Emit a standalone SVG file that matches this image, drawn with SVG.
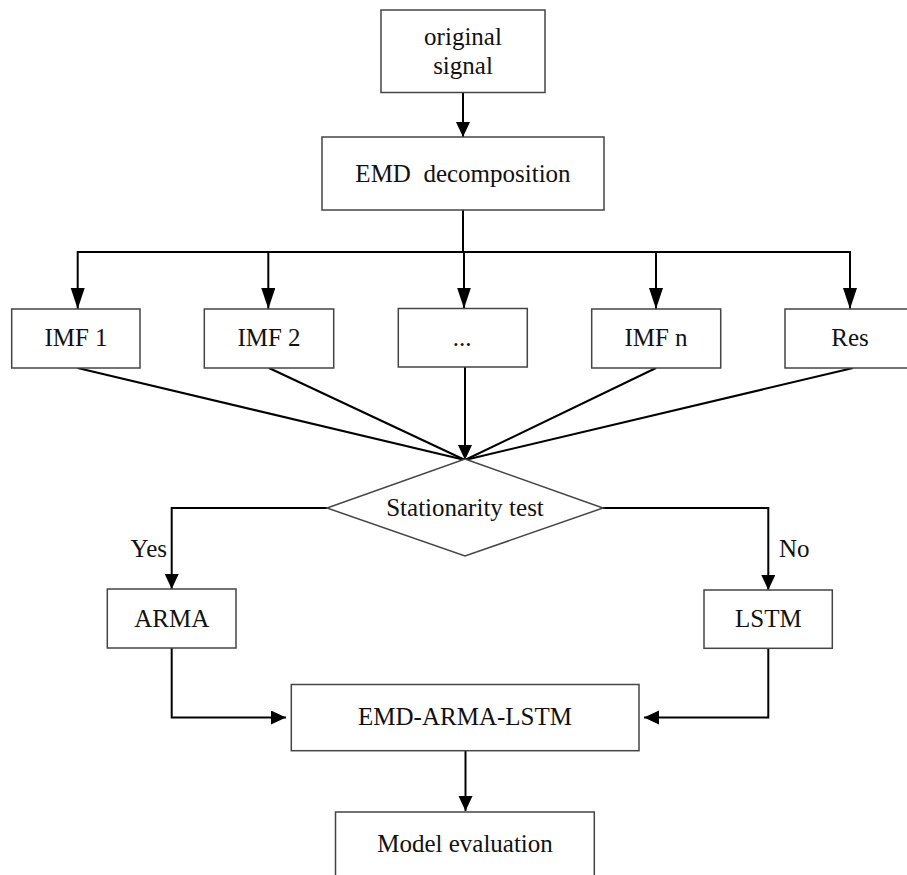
<svg xmlns="http://www.w3.org/2000/svg" width="907" height="875" viewBox="0 0 907 875">
<defs>
<style>
.box{fill:#fff;stroke:#444;stroke-width:1.5}
.con{fill:none;stroke:#000;stroke-width:2}
.t{font-family:"Liberation Serif","Times New Roman",serif;font-size:25px;fill:#111;text-anchor:middle}
</style>
<marker id="ah" markerUnits="userSpaceOnUse" markerWidth="16" markerHeight="15" refX="15" refY="7" orient="auto">
<path d="M0,0 L15,7 L0,14 z" fill="#000"/>
</marker>
<marker id="ahl" markerUnits="userSpaceOnUse" markerWidth="22" markerHeight="15" refX="21" refY="7" orient="auto">
<path d="M0,0 L21,7 L0,14 z" fill="#000"/>
</marker>
</defs>
<rect width="907" height="875" fill="#fff"/>
<g id="connectors">
<line class="con" x1="463" y1="92" x2="463" y2="137" marker-end="url(#ah)"/>
<line class="con" x1="463" y1="210" x2="463" y2="252"/>
<line class="con" x1="77.7" y1="252" x2="850" y2="252"/>
<line class="con" x1="77.7" y1="251" x2="77.7" y2="309" marker-end="url(#ahl)"/>
<line class="con" x1="268.3" y1="251" x2="268.3" y2="309" marker-end="url(#ahl)"/>
<line class="con" x1="464" y1="251" x2="464" y2="308.5" marker-end="url(#ahl)"/>
<line class="con" x1="656" y1="251" x2="656" y2="309" marker-end="url(#ahl)"/>
<line class="con" x1="850" y1="251" x2="850" y2="309" marker-end="url(#ahl)"/>
<line class="con" x1="77.7" y1="368" x2="465" y2="460"/>
<line class="con" x1="269" y1="368" x2="465" y2="460"/>
<line class="con" x1="656" y1="368" x2="465" y2="460"/>
<line class="con" x1="853" y1="368" x2="465" y2="460"/>
<line class="con" x1="465" y1="367" x2="465" y2="460" marker-end="url(#ah)"/>
<polyline class="con" points="327,508 171.7,508 171.7,589" marker-end="url(#ah)"/>
<polyline class="con" points="603,508 768.3,508 768.3,590" marker-end="url(#ah)"/>
<polyline class="con" points="171.7,648 171.7,717.5 286,717.5" marker-end="url(#ah)"/>
<polyline class="con" points="768.3,648 768.3,717.5 644,717.5" marker-end="url(#ah)"/>
<line class="con" x1="465.5" y1="751" x2="465.5" y2="811" marker-end="url(#ah)"/>
<text class="t" x="167" y="557" style="text-anchor:end">Yes</text>
<text class="t" x="779" y="557" style="text-anchor:start">No</text>
</g>
<g id="original">
<rect class="box" x="381" y="10" width="164" height="82.5"/>
<text class="t" x="463" y="45">original</text>
<text class="t" x="463" y="74">signal</text>
</g>
<g id="emd">
<rect class="box" x="322" y="137" width="282" height="73"/>
<text class="t" x="463" y="182" xml:space="preserve">EMD  decomposition</text>
</g>
<g id="imf1">
<rect class="box" x="11.7" y="309" width="128.3" height="59"/>
<text class="t" x="76" y="346">IMF 1</text>
</g>
<g id="imf2">
<rect class="box" x="204.3" y="309" width="129.4" height="59"/>
<text class="t" x="269" y="346">IMF 2</text>
</g>
<g id="dots">
<rect class="box" x="398.3" y="308.5" width="129" height="58.5"/>
<text class="t" x="462" y="346">...</text>
</g>
<g id="imfn">
<rect class="box" x="591.7" y="309" width="129" height="59"/>
<text class="t" x="656" y="346">IMF n</text>
</g>
<g id="res">
<rect class="box" x="785" y="309" width="130" height="59"/>
<text class="t" x="850" y="346">Res</text>
</g>
<g id="stationarity">
<polygon class="box" points="465,459 603,508 465,556 327,508"/>
<text class="t" x="465" y="516">Stationarity test</text>
</g>
<g id="arma">
<rect class="box" x="107.3" y="589" width="128.7" height="59"/>
<text class="t" x="171.7" y="627">ARMA</text>
</g>
<g id="lstm">
<rect class="box" x="704" y="590" width="128.3" height="58.3"/>
<text class="t" x="768.3" y="627">LSTM</text>
</g>
<g id="hybrid">
<rect class="box" x="291.3" y="684.5" width="347.7" height="66.2"/>
<text class="t" x="465" y="725">EMD-ARMA-LSTM</text>
</g>
<g id="evaluation">
<rect class="box" x="335.5" y="812" width="258.8" height="80"/>
<text class="t" x="465" y="852">Model evaluation</text>
</g>
</svg>
